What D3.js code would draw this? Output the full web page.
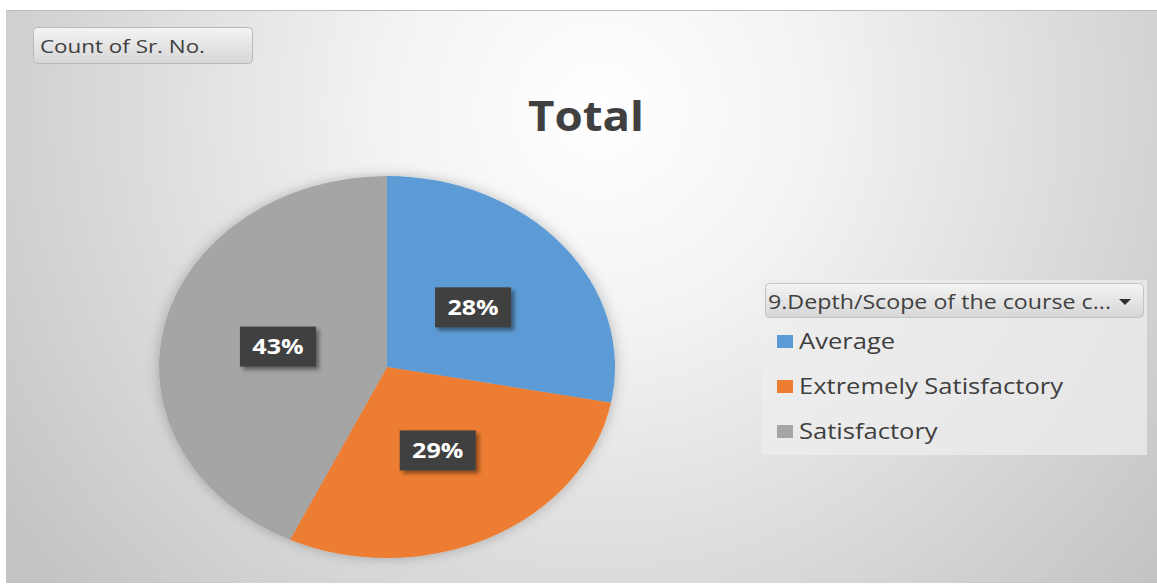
<!DOCTYPE html>
<html lang="en">
<head>
  <meta charset="UTF-8">
  <title>Total</title>
  <style>
    body { margin: 0; background: #fff; }
    svg { display: block; font-family: "Open Sans", Lato, sans-serif; }
  </style>
</head>
<body>
<div id="chart"></div>

<script src="https://cdn.jsdelivr.net/npm/d3@7/dist/d3.min.js"></script>
<script>
  const categories = ["Average", "Extremely Satisfactory", "Satisfactory"];
  const values = [28, 29, 43];
  const colors = ["#5B9BD5", "#ED7D31", "#A5A5A5"];
  const legendTitle = "9.Depth/Scope of the course c...";
  const fieldButton = "Count of Sr. No.";
  const chartTitle = "Total";

  const width = 1157, height = 585;
  const cx = 387, cy = 367, ry = 191, rx = 228;
  const stretch = rx / ry; // the picture is wider than tall

  const svg = d3.select("#chart").append("svg")
    .attr("width", width)
    .attr("height", height);

  const defs = svg.append("defs");

  const bg = defs.append("radialGradient")
    .attr("id", "bg")
    .attr("gradientUnits", "userSpaceOnUse")
    .attr("cx", 600).attr("cy", 110).attr("r", 720);
  bg.append("stop").attr("offset", "0%").attr("stop-color", "#ffffff");
  bg.append("stop").attr("offset", "30%").attr("stop-color", "#f3f3f3");
  bg.append("stop").attr("offset", "100%").attr("stop-color", "#c4c4c4");

  const btn = defs.append("linearGradient")
    .attr("id", "btn").attr("x1", 0).attr("y1", 0).attr("x2", 0).attr("y2", 1);
  btn.append("stop").attr("offset", "0%").attr("stop-color", "#f4f4f4");
  btn.append("stop").attr("offset", "100%").attr("stop-color", "#d6d6d6");

  const shadow = defs.append("filter").attr("id", "shadow")
    .attr("x", "-20%").attr("y", "-20%").attr("width", "140%").attr("height", "140%");
  shadow.append("feDropShadow")
    .attr("dx", 0).attr("dy", 0).attr("stdDeviation", 6)
    .attr("flood-color", "#000").attr("flood-opacity", 0.25);

  const boxShadow = defs.append("filter").attr("id", "boxShadow")
    .attr("x", "-20%").attr("y", "-20%").attr("width", "150%").attr("height", "150%");
  boxShadow.append("feDropShadow")
    .attr("dx", 3).attr("dy", 3).attr("stdDeviation", 2)
    .attr("flood-color", "#000").attr("flood-opacity", 0.45);

  // chart background
  svg.append("rect")
    .attr("x", 6).attr("y", 10)
    .attr("width", width - 6).attr("height", 573)
    .attr("fill", "url(#bg)");
  svg.append("line")
    .attr("x1", 6).attr("x2", width).attr("y1", 10.5).attr("y2", 10.5)
    .attr("stroke", "#bdbdbd");

  // field button
  svg.append("rect")
    .attr("x", 33.5).attr("y", 27.5).attr("width", 219).attr("height", 36).attr("rx", 4)
    .attr("fill", "url(#btn)").attr("stroke", "#b8b8b8");
  svg.append("text")
    .attr("x", 40).attr("y", 53)
    .attr("font-size", 19).attr("fill", "#404040")
    .attr("textLength", 165).attr("lengthAdjust", "spacingAndGlyphs")
    .text(fieldButton);

  // title
  svg.append("text")
    .attr("x", 586).attr("y", 131)
    .attr("text-anchor", "middle")
    .attr("font-size", 42).attr("font-weight", "bold").attr("fill", "#404040")
    .attr("textLength", 116).attr("lengthAdjust", "spacingAndGlyphs")
    .text(chartTitle);

  // pie
  const pie = d3.pie().sort(null).value(d => d.value);
  const data = pie(categories.map((c, i) => ({ name: c, value: values[i] })));
  const arc = d3.arc().innerRadius(0).outerRadius(ry);
  const labelArc = d3.arc().innerRadius(ry * 0.98).outerRadius(ry * 0.98);

  const pieG = svg.append("g")
    .attr("transform", "translate(" + cx + "," + cy + ") scale(" + stretch + ",1)")
    .attr("filter", "url(#shadow)");

  pieG.selectAll(".slice")
    .data(data)
    .enter()
    .append("path")
    .attr("class", "slice")
    .attr("fill", (d, i) => colors[i])
    .attr("d", arc);

  // data labels
  const total = d3.sum(values);
  const labels = svg.selectAll(".lbl")
    .data(data)
    .enter()
    .append("g")
    .attr("class", "lbl")
    .attr("transform", d => {
      const c = labelArc.centroid(d);
      return "translate(" + (cx + c[0] * 0.5 * stretch) + "," + (cy + c[1] * 0.5) + ")";
    });

  labels.append("rect")
    .attr("x", -38).attr("y", -20).attr("width", 76).attr("height", 40)
    .attr("fill", "#404040")
    .attr("filter", "url(#boxShadow)");

  labels.append("text")
    .attr("text-anchor", "middle")
    .attr("dy", "0.36em")
    .attr("transform", "scale(" + stretch + ",1)")
    .attr("font-size", 21).attr("font-weight", "bold").attr("fill", "#fff")
    .text(d => Math.round(d.value / total * 100) + "%");

  // legend
  const lg = svg.append("g").attr("transform", "translate(762,280)");
  lg.append("rect")
    .attr("width", 385).attr("height", 175)
    .attr("fill", "#eeeeee").attr("opacity", 0.75);
  lg.append("rect")
    .attr("x", 3.5).attr("y", 3.5).attr("width", 378).attr("height", 34).attr("rx", 4)
    .attr("fill", "url(#btn)").attr("stroke", "#c4c4c4");
  lg.append("text")
    .attr("x", 6).attr("y", 29)
    .attr("font-size", 20).attr("fill", "#404040")
    .attr("textLength", 343).attr("lengthAdjust", "spacingAndGlyphs")
    .text(legendTitle);
  lg.append("path")
    .attr("d", "M357,19 L369,19 L363,25 Z")
    .attr("fill", "#303030");

  const yItem = d3.scalePoint()
    .domain(categories)
    .range([62, 152]);

  const items = lg.selectAll(".item")
    .data(categories)
    .enter()
    .append("g")
    .attr("class", "item")
    .attr("transform", d => "translate(0," + yItem(d) + ")");

  items.append("rect")
    .attr("x", 15).attr("y", -7).attr("width", 16).attr("height", 13)
    .attr("fill", (d, i) => colors[i]);

  items.append("text")
    .attr("dy", "0.35em")
    .attr("font-size", 21).attr("fill", "#404040")
    .attr("transform", "scale(" + (stretch * 1.02) + ",1)")
    .attr("x", 37 / (stretch * 1.02))
    .text(d => d);
</script>
</body>
</html>
